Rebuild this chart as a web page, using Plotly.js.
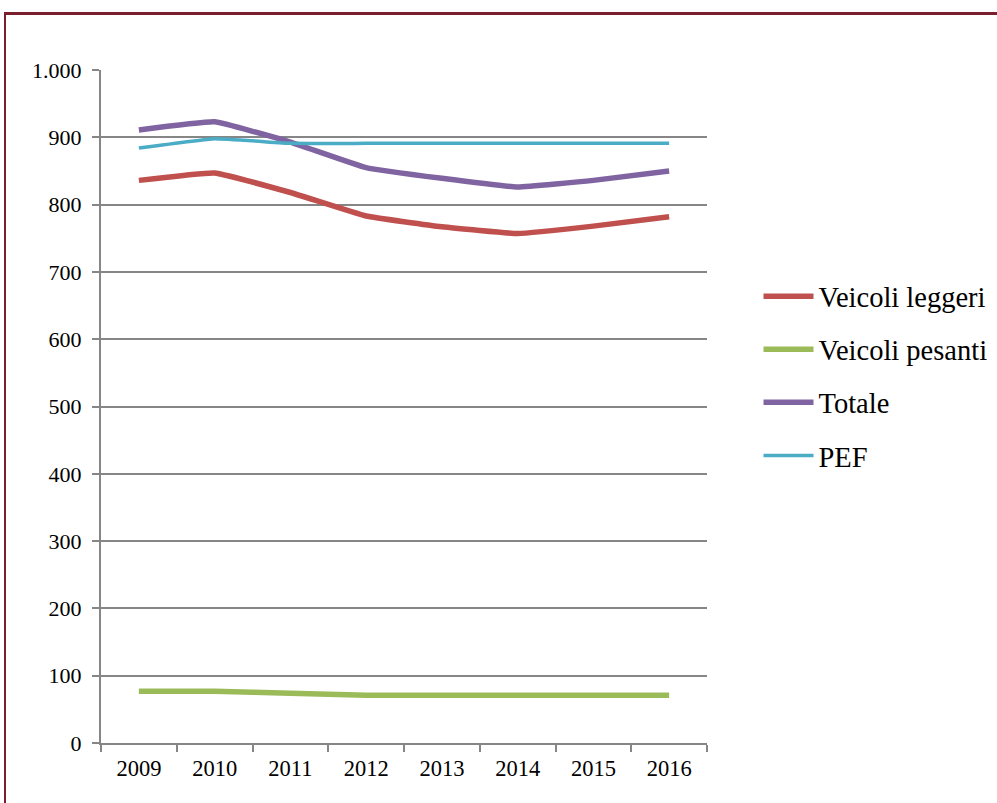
<!DOCTYPE html>
<html>
<head>
<meta charset="utf-8">
<script src="https://cdn.plot.ly/plotly-3.0.1.min.js"></script>
<style>
  html, body { margin: 0; padding: 0; background: #fff; overflow: hidden; }
  #frame { position: absolute; left: 4px; top: 12px; width: 1100px; height: 900px;
           border-left: 2px solid #7B1F2C; border-top: 3px solid #7B1F2C; box-sizing: border-box; }
  #chart { position: absolute; left: 0; top: 0; width: 997px; height: 803px; }
</style>
</head>
<body>
<div id="frame"></div>
<div id="chart"></div>
<script>
const years = ['2009', '2010', '2011', '2012', '2013', '2014', '2015', '2016'];
const veicoliLeggeri = [836, 847, 818, 783, 767, 757, 768, 782];
const veicoliPesanti = [77, 77, 74, 71, 71, 71, 71, 71];
const totale = [911, 923, 893, 855, 839, 826, 836, 850];
const pef = [884, 898, 891, 891, 891, 891, 891, 891];
const yTicks = [0, 100, 200, 300, 400, 500, 600, 700, 800, 900, 1000];

const serie = [
  { name: 'Veicoli leggeri', y: veicoliLeggeri, color: '#C0504D', width: 5.5 },
  { name: 'Veicoli pesanti', y: veicoliPesanti, color: '#9BBB59', width: 5.5 },
  { name: 'Totale', y: totale, color: '#8064A2', width: 5.5 },
  { name: 'PEF', y: pef, color: '#4BACC6', width: 3.5 }
];

const traces = serie.map((s, i) => ({
  type: 'scatter', mode: 'lines', x: years, y: s.y, name: s.name,
  legendgroup: 'g' + i,
  line: { color: s.color, width: s.width, shape: 'spline', smoothing: 0.3 }
}));

const serif = 'Liberation Serif, Times New Roman, serif';

const layout = {
  width: 997, height: 803,
  margin: { l: 101, r: 290, t: 70, b: 60, autoexpand: false },
  paper_bgcolor: 'rgba(0,0,0,0)', plot_bgcolor: 'rgba(0,0,0,0)',
  separators: ',.',
  font: { family: serif, color: '#000' },
  showlegend: true,
  legend: {
    x: 1.085, xanchor: 'left', y: 0.545, yanchor: 'middle',
    font: { size: 28.5, family: serif, color: '#000' },
    traceorder: 'grouped', tracegroupgap: 13,
    bgcolor: 'rgba(0,0,0,0)', itemwidth: 50
  },
  xaxis: {
    type: 'category', range: [-0.5, 7.5],
    tickson: 'boundaries', ticks: 'outside', ticklen: 7, tickwidth: 2, tickcolor: '#868686',
    ticklabelstandoff: 4,
    showline: true, linecolor: '#868686', linewidth: 2,
    showgrid: false, zeroline: false,
    tickfont: { size: 22.5, family: serif, color: '#000' }
  },
  yaxis: {
    range: [0, 1000], tickvals: yTicks, tickformat: ',d',
    ticks: 'outside', ticklen: 7, tickwidth: 2, tickcolor: '#868686',
    ticklabelstandoff: 6,
    showline: true, linecolor: '#868686', linewidth: 2,
    showgrid: true, gridcolor: '#868686', gridwidth: 2,
    zeroline: false,
    tickfont: { size: 22, family: serif, color: '#000' }
  }
};

Plotly.newPlot('chart', traces, layout, { displayModeBar: false, staticPlot: true });
</script>
</body>
</html>
